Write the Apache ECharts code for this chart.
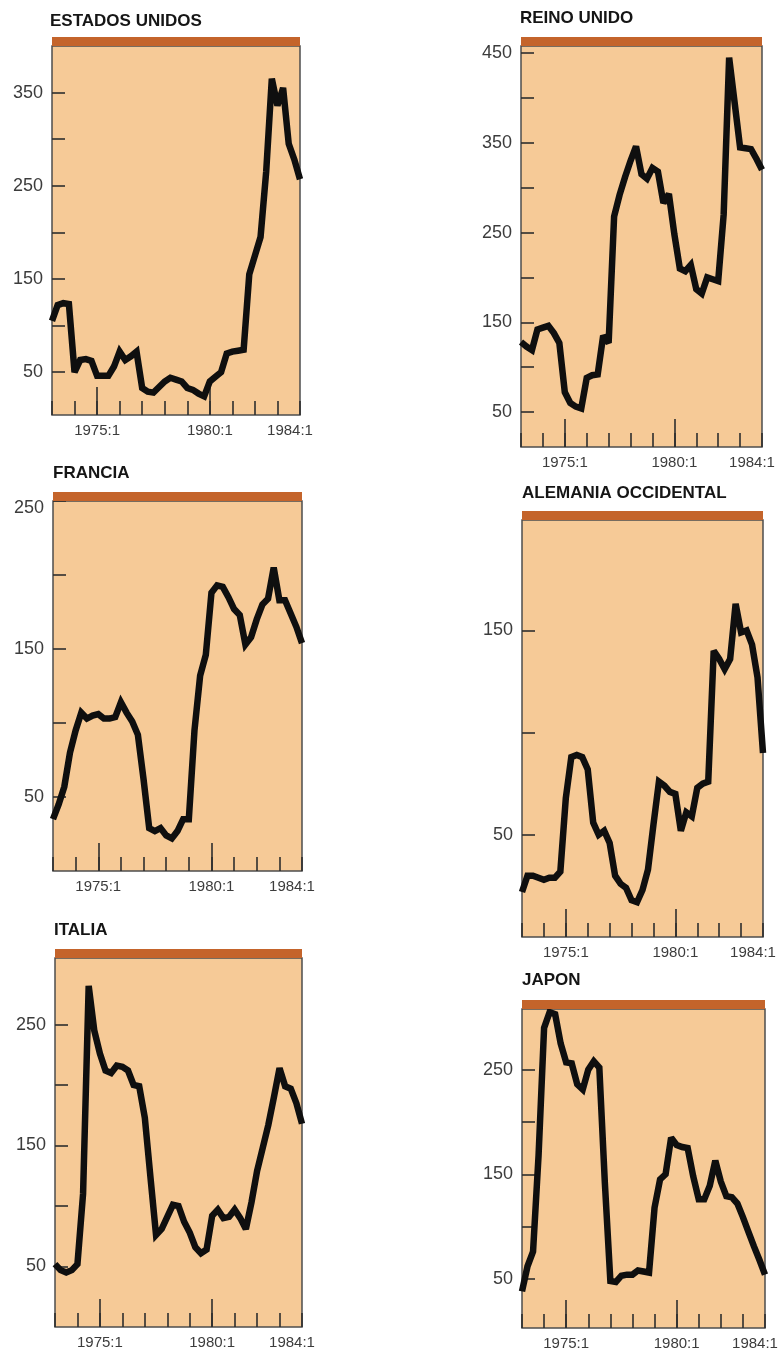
<!DOCTYPE html>
<html>
<head>
<meta charset="utf-8">
<script src="https://cdn.jsdelivr.net/npm/echarts@6/dist/echarts.min.js"></script>
<style>
  html, body { margin: 0; padding: 0; background: #ffffff; }
  #chart { width: 781px; height: 1356px; }
</style>
</head>
<body>
<div id="chart"></div>
<script>
// ---------- DATA ----------
const quarters = [
  '1973:1','1973:2','1973:3','1973:4','1974:1','1974:2','1974:3','1974:4',
  '1975:1','1975:2','1975:3','1975:4','1976:1','1976:2','1976:3','1976:4',
  '1977:1','1977:2','1977:3','1977:4','1978:1','1978:2','1978:3','1978:4',
  '1979:1','1979:2','1979:3','1979:4','1980:1','1980:2','1980:3','1980:4',
  '1981:1','1981:2','1981:3','1981:4','1982:1','1982:2','1982:3','1982:4',
  '1983:1','1983:2','1983:3','1983:4','1984:1'
];
const yearLabels = ['1975:1', '1980:1', '1984:1'];
const longTickQuarters = ['1975:1', '1980:1'];

const titles = ['ESTADOS UNIDOS', 'REINO UNIDO', 'FRANCIA', 'ALEMANIA OCCIDENTAL', 'ITALIA', 'JAPON'];

const estadosUnidos = [105,122,124,123,50,63,64,62,46,46,46,56,72,63,67,72,33,29,28,34,40,44,42,40,33,31,27,24,40,45,50,70,72,73,74,155,175,195,265,365,336,355,295,278,257];
const reinoUnido    = [128,123,119,142,144,146,138,127,72,60,56,54,88,91,92,135,127,268,292,312,330,346,315,310,322,318,283,293,248,210,207,214,187,182,200,198,196,270,445,395,345,344,343,332,320];
const francia       = [35,45,57,80,95,107,103,105,106,103,103,104,114,107,101,92,62,29,27,29,24,22,27,35,35,95,132,146,188,193,192,185,177,173,153,158,170,180,184,205,183,183,174,165,154];
const alemania      = [22,30,30,29,28,29,29,32,68,88,89,88,82,56,50,52,46,30,26,24,18,17,23,33,55,76,74,71,70,52,61,59,73,75,76,140,136,131,136,163,149,150,143,127,90];
const italia        = [52,47,45,47,52,110,282,245,226,212,210,216,215,212,200,199,173,124,76,81,91,101,100,87,78,66,61,64,92,97,90,91,97,90,81,103,129,148,167,190,214,199,197,185,168];
const japon         = [38,62,76,168,290,305,303,275,257,256,236,231,250,258,252,142,48,47,53,54,54,58,57,56,118,145,150,185,178,176,175,148,126,126,139,163,143,129,128,122,109,95,81,68,54];

const seriesValues = [estadosUnidos, reinoUnido, francia, alemania, italia, japon];

const yMins = [4, 11, 0, 0, 0, 3];
const yMaxs = [400, 458, 250, 204, 305, 308];
const yTickValues = [
  [50,100,150,200,250,300,350],
  [50,100,150,200,250,300,350,400,450],
  [50,100,150,200,250],
  [50,100,150],
  [50,100,150,200,250],
  [50,100,150,200,250]
];
const yLabelValues = [
  [50,150,250,350],
  [50,150,250,350,450],
  [50,150,250],
  [50,150],
  [50,150,250],
  [50,150,250]
];

// ---------- LAYOUT (pixels) ----------
const layout = [
  { left: 52,  top: 46,   width: 248, height: 369, titleLeft: 50,  titleTop: 13 },
  { left: 521, top: 46,   width: 241, height: 401, titleLeft: 520, titleTop: 10 },
  { left: 53,  top: 501,  width: 249, height: 370, titleLeft: 53,  titleTop: 465 },
  { left: 522, top: 520,  width: 241, height: 417, titleLeft: 522, titleTop: 485 },
  { left: 55,  top: 958,  width: 247, height: 369, titleLeft: 54,  titleTop: 922 },
  { left: 522, top: 1009, width: 243, height: 319, titleLeft: 522, titleTop: 972 }
];

const FONT = 'Liberation Sans, Arial, sans-serif';
const FILL = '#F6CA97';
const BAR = '#C4642B';
const BORDER = '#4d4d4d';
const TICK = '#2e2e2e';
const LABEL = '#3c3c3c';

const grid = [], xAxis = [], yAxis = [], series = [], title = [], graphic = [];

layout.forEach((L, k) => {
  grid.push({
    left: L.left, top: L.top, width: L.width, height: L.height,
    show: true, backgroundColor: FILL, borderColor: BORDER, borderWidth: 1.5,
    containLabel: false
  });
  title.push({
    text: titles[k], left: L.titleLeft, top: L.titleTop, padding: 0,
    textStyle: { fontFamily: FONT, fontSize: 17, fontWeight: 'bold', color: '#151515' }
  });
  graphic.push({
    type: 'rect', z: 10,
    shape: { x: L.left, y: L.top - 9, width: L.width, height: 9 },
    style: { fill: BAR }
  });
  // main x axis: yearly ticks + labels
  xAxis.push({
    type: 'category', gridIndex: k, data: quarters, boundaryGap: false,
    axisLine: { show: false },
    axisTick: {
      show: true, inside: true, length: 14,
      interval: (i, v) => String(v).endsWith(':1'),
      lineStyle: { color: TICK, width: 1.6 }
    },
    axisLabel: {
      show: true, margin: 8, fontFamily: FONT, fontSize: 15, color: LABEL,
      interval: (i, v) => yearLabels.indexOf(v) >= 0,
      formatter: v => v === '1984:1' ? '{s|' + v + '}' : v,
      rich: { s: { fontFamily: FONT, fontSize: 15, color: LABEL, padding: [0, 20, 0, 0] } }
    },
    splitLine: { show: false }
  });
  // secondary x axis: long ticks at 1975:1 and 1980:1
  xAxis.push({
    type: 'category', gridIndex: k, data: quarters, boundaryGap: false, position: 'bottom',
    axisLine: { show: false },
    axisTick: {
      show: true, inside: true, length: 28,
      interval: (i, v) => longTickQuarters.indexOf(v) >= 0,
      lineStyle: { color: TICK, width: 1.6 }
    },
    axisLabel: { show: false },
    splitLine: { show: false }
  });
  const topVal = yMaxs[k];
  yAxis.push({
    type: 'value', gridIndex: k, min: yMins[k], max: yMaxs[k],
    axisLine: { show: false },
    axisTick: {
      show: true, inside: true, length: 13, customValues: yTickValues[k],
      lineStyle: { color: TICK, width: 1.6 }
    },
    axisLabel: {
      show: true, margin: 9, fontFamily: FONT, fontSize: 18, color: LABEL,
      customValues: yLabelValues[k],
      formatter: v => (v === topVal ? '{t|' + v + '}' : String(v)),
      rich: { t: { fontFamily: FONT, fontSize: 18, color: LABEL, padding: [14, 0, 0, 0] } }
    },
    splitLine: { show: false }
  });
  series.push({
    type: 'line', xAxisIndex: 2 * k, yAxisIndex: k,
    data: seriesValues[k],
    showSymbol: false, symbol: 'none', silent: true,
    lineStyle: { color: '#0f0f0f', width: 6.5, join: 'miter', miterLimit: 2.5 },
    z: 5
  });
});

const chart = echarts.init(document.getElementById('chart'), null, { renderer: 'canvas' });
chart.setOption({
  animation: false,
  backgroundColor: '#ffffff',
  title, grid, xAxis, yAxis, series, graphic
});
</script>
</body>
</html>
